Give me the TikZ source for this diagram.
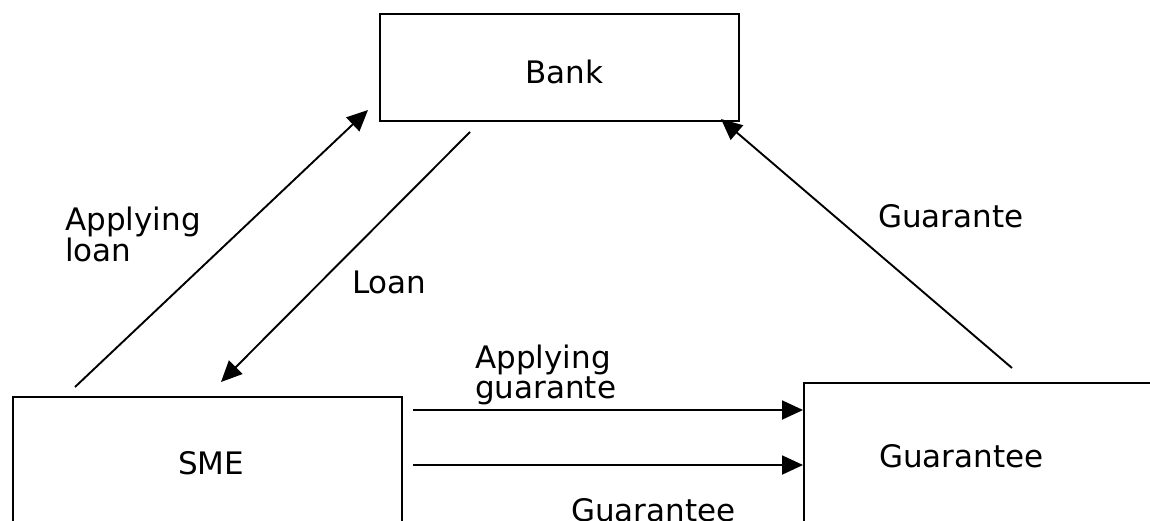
\documentclass[tikz,border=0pt]{standalone}
\usepackage{fontspec}
\setmainfont{DejaVu Sans}
\usetikzlibrary{arrows.meta}
\begin{document}
\begin{tikzpicture}[x=1pt,y=-1pt,
  box/.style={draw,line width=1.9pt,inner sep=0pt,anchor=north west},
  lbl/.style={inner sep=0pt,anchor=base west,align=left,font=\fontsize{31}{30}\selectfont},
  conn/.style={line width=1.9pt,-{Triangle[length=21pt,width=19pt]}}]
\clip (0,0) rectangle (1150,520);
\fill[white] (0,0) rectangle (1150,520);
% boxes
\node[box,minimum width=359pt,minimum height=107pt] (bank) at (379,13) {};
\node[box,minimum width=389pt,minimum height=160pt] (sme) at (12,396) {};
\node[box,minimum width=370pt,minimum height=160pt] (guar) at (803,382) {};
% box texts
\node[lbl] (banktxt) at (525,83) {Bank};
\node[lbl] (smetxt) at (178,474) {SME};
\node[lbl] (guartxt) at (879,467) {Guarantee};
% connector end points
\coordinate (al1) at (75,387);
\coordinate (al2) at (368,110);
\coordinate (ln1) at (470,132);
\coordinate (ln2) at (221,382);
\coordinate (gb1) at (1012,368);
\coordinate (gb2) at (721,119);
\coordinate (ag1) at (413,410);
\coordinate (ag2) at (803,410);
\coordinate (gg1) at (413,465);
\coordinate (gg2) at (803,465);
% connectors
\draw[conn] (al1) -- (al2);
\draw[conn] (ln1) -- (ln2);
\draw[conn] (gb1) -- (gb2);
\draw[conn] (ag1) -- (ag2);
\draw[conn] (gg1) -- (gg2);
% labels
\node[lbl] (lal) at (65,261) {Applying\\loan};
\node[lbl] (lln) at (352,293) {Loan};
\node[lbl] (lag) at (475,398) {Applying\\guarante};
\node[lbl] (lgg) at (571,521) {Guarantee};
\node[lbl] (lgb) at (878,227) {Guarante};
\end{tikzpicture}
\end{document}
